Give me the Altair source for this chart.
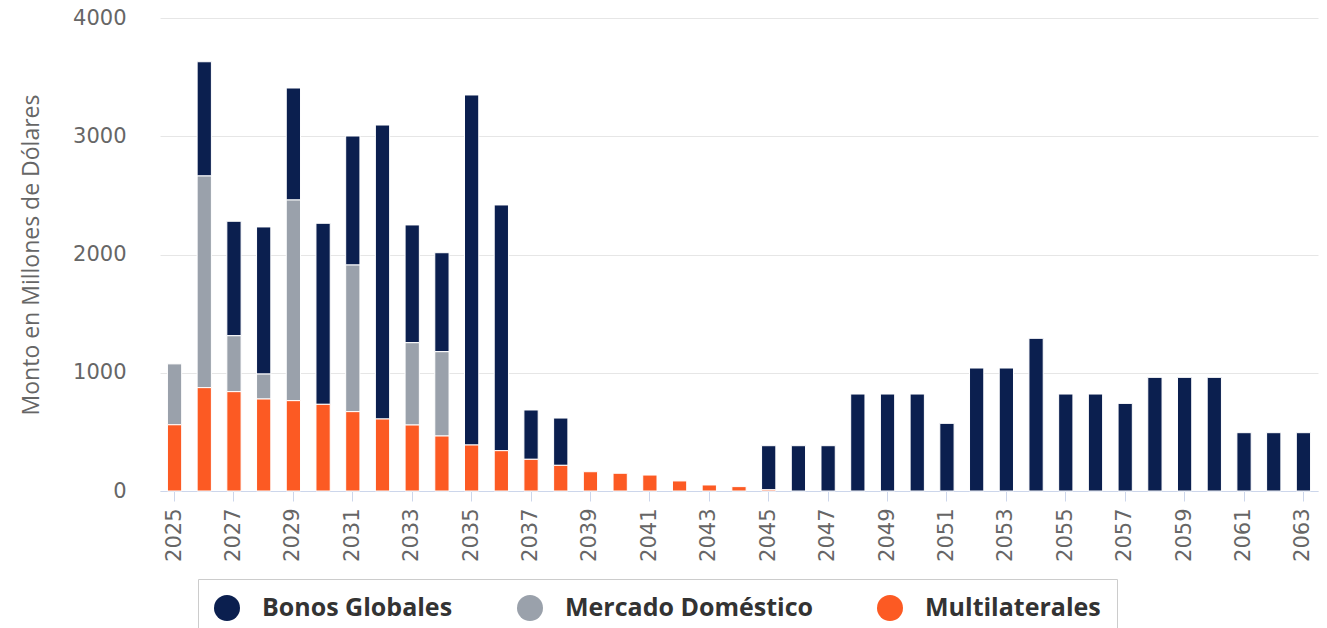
import altair as alt
import pandas as pd

years = list(range(2025, 2064))
series = ["Bonos Globales", "Mercado Doméstico", "Multilaterales"]
colors = ["#0b1f4f", "#9aa1ab", "#fc5a23"]

bonos = [0, 966, 968, 1244, 947, 1531, 1091, 2486, 996, 837, 2960, 2078, 417, 400,
         0, 0, 0, 0, 0, 0,
         373, 383, 383, 820, 820, 820, 572, 1040, 1040, 1291, 820, 820, 741,
         961, 961, 961, 493, 493, 493]
mercado = [515, 1790, 473, 211, 1697, 0, 1240, 0, 696, 713, 0, 0, 0, 0,
           0, 0, 0, 0, 0, 0, 0, 0, 0, 0, 0, 0, 0, 0, 0, 0, 0, 0, 0, 0, 0, 0, 0, 0, 0]
multi = [560, 874, 840, 778, 764, 733, 671, 609, 558, 465, 389, 341, 268, 217,
         163, 150, 135, 85, 51, 37, 10, 0, 0, 0, 0, 0, 0, 0, 0, 0, 0, 0, 0, 0, 0, 0, 0, 0, 0]

stack_rank = {"Multilaterales": 0, "Mercado Doméstico": 1, "Bonos Globales": 2}

rows = []
for s, vals in zip(series, [bonos, mercado, multi]):
    for yr, v in zip(years, vals):
        if v > 0:
            rows.append({"year": yr, "serie": s, "value": v, "rank": stack_rank[s]})
df = pd.DataFrame(rows)

chart = alt.Chart(df).mark_bar(stroke="white", strokeWidth=1).encode(
    x=alt.X("year:O",
            scale=alt.Scale(domain=years, paddingInner=0.52, paddingOuter=0.25),
            axis=alt.Axis(values=years[::2], labelAngle=270, title=None, grid=False,
                          domainColor="#ccd6eb", tickColor="#ccd6eb", tickSize=10,
                          labelPadding=7, labelFont="DejaVu Sans", labelFontSize=21,
                          labelColor="#666666")),
    y=alt.Y("value:Q", stack="zero",
            scale=alt.Scale(domain=[0, 4000]),
            axis=alt.Axis(values=[0, 1000, 2000, 3000, 4000], format="d",
                          domain=False, ticks=False,
                          labelPadding=34, labelFont="DejaVu Sans", labelFontSize=21,
                          labelColor="#666666", gridColor="#e6e6e6",
                          title="Monto en Millones de Dólares", titleFont="Open Sans",
                          titleFontSize=23, titleColor="#666666", titleFontWeight="normal",
                          titlePadding=29)),
    color=alt.Color("serie:N", scale=alt.Scale(domain=series, range=colors),
                    legend=alt.Legend(orient="none", legendX=38, legendY=561,
                                      direction="horizontal", title=None,
                                      symbolType="circle", symbolSize=676,
                                      symbolStrokeWidth=0, symbolOpacity=1,
                                      labelFont="Open Sans", labelFontWeight="bold",
                                      labelFontSize=25, labelColor="#333333",
                                      labelLimit=400, labelOffset=22,
                                      columnPadding=64, padding=16,
                                      strokeColor="#cccccc", fillColor="white")),
    order=alt.Order("rank:Q"),
).properties(
    width=1158, height=473,
    padding={"left": 160, "top": 18, "right": 9, "bottom": 137},
    autosize="none",
).configure_view(stroke=None)

chart.save("out.html", embed_options={"renderer": "svg", "actions": False})
